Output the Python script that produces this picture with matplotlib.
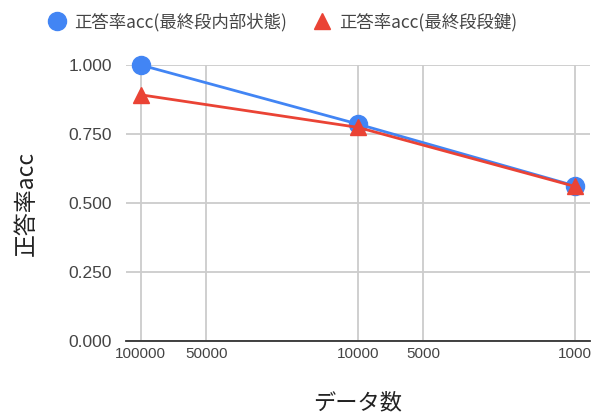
import matplotlib
matplotlib.use('Agg')
import matplotlib.pyplot as plt
from matplotlib.lines import Line2D

# data size vs accuracy
data_sizes = [100000, 10000, 1000]
acc_hidden = [1.0, 0.786, 0.562]
acc_key = [0.892, 0.774, 0.560]
x_ticks = [100000, 50000, 10000, 5000, 1000]
x_tick_labels = ['100000', '50000', '10000', '5000', '1000']
y_ticks = [0.0, 0.25, 0.5, 0.75, 1.0]
y_tick_labels = ['0.000', '0.250', '0.500', '0.750', '1.000']
series_names = ['正答率acc(最終段内部状態)', '正答率acc(最終段段鍵)']

BLUE = '#4285F4'
RED = '#EA4335'
JP = ['Noto Sans CJK JP', 'DejaVu Sans']
NUM = ['Liberation Sans', 'DejaVu Sans']

fig = plt.figure(figsize=(5.94, 4.18), dpi=100)
ax = fig.add_axes([126 / 594, 1 - 341 / 418, 464 / 594, 276 / 418])

ax.set_xscale('log')
ax.set_xlim(117000, 853)
ax.set_ylim(0, 1.0)

for s in ['top', 'right', 'left']:
    ax.spines[s].set_visible(False)
ax.spines['bottom'].set_color('#333333')
ax.spines['bottom'].set_linewidth(1.3)
ax.spines['bottom'].set_zorder(3)

ax.set_xticks(x_ticks)
ax.set_xticklabels(x_tick_labels, family=NUM, fontsize=11, color='#444444')
ax.xaxis.set_minor_locator(matplotlib.ticker.NullLocator())
ax.set_yticks(y_ticks)
ax.set_yticklabels(y_tick_labels, family=NUM, fontsize=12.5, color='#444444')
ax.tick_params(axis='both', length=0)
ax.tick_params(axis='x', pad=4)
ax.tick_params(axis='y', pad=10)
ax.grid(True, color='#cccccc', linewidth=1.3)
ax.set_axisbelow(True)

ax.plot(data_sizes, acc_hidden, color=BLUE, linewidth=2, marker='o',
        markersize=13, clip_on=False, zorder=4)
ax.plot(data_sizes, acc_key, color=RED, linewidth=2, marker='^',
        markersize=11, clip_on=False, zorder=5)

ax.set_xlabel('データ数', family=JP, fontsize=16, color='#222222', labelpad=22)
ax.set_ylabel('正答率acc', family=JP, fontsize=16.5, color='#222222', labelpad=22)

handles = [
    Line2D([], [], linestyle='none', marker='o', markersize=13, color=BLUE),
    Line2D([], [], linestyle='none', marker='^', markersize=12, color=RED),
]
fig.legend(handles, series_names, loc='center', bbox_to_anchor=(282 / 594, 1 - 22 / 418),
           ncol=2, frameon=False, prop={'family': JP, 'size': 12.5},
           labelcolor='#444444', handletextpad=0.4, columnspacing=1.4,
           handlelength=1.2)

fig.savefig('out.png', dpi=100)
